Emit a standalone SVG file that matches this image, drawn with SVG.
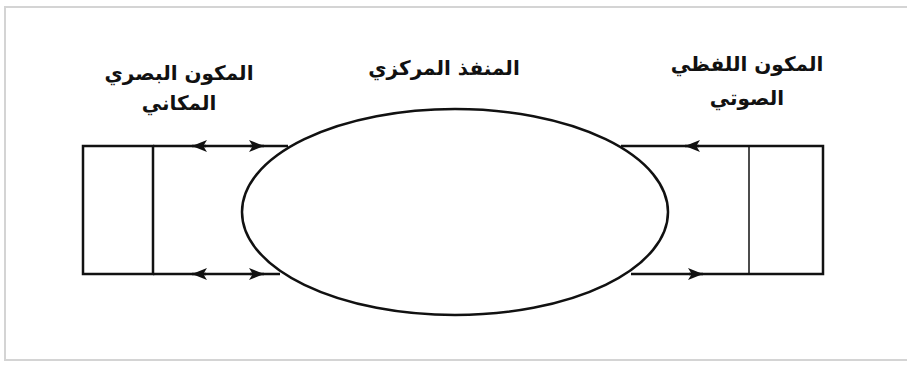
<svg xmlns="http://www.w3.org/2000/svg" width="907" height="365" viewBox="0 0 907 365">
<defs>
<style>
.ln{stroke:#111;stroke-width:2.5;fill:none}
.thin{stroke:#111;stroke-width:1.5;fill:none}
.lbl{font-family:"DejaVu Sans","Noto Sans",sans-serif;font-size:20px;font-weight:bold;fill:#111;text-anchor:middle}
</style>
<marker id="ah" viewBox="0 0 10 10" refX="10" refY="5" markerWidth="6" markerHeight="6" orient="auto-start-reverse" markerUnits="strokeWidth">
<path d="M0,1 L10,5 L0,9 L2.5,5 Z" fill="#111"/>
</marker>
</defs>
<rect x="0" y="0" width="907" height="365" fill="#fff"/>
<rect x="5" y="7" width="910" height="353" fill="#fff" stroke="#d4d4d4" stroke-width="2"/>
<g id="connectors">
<line class="ln" x1="153" y1="146" x2="288" y2="146"/>
<line class="ln" x1="153" y1="274" x2="280" y2="274"/>
<line class="ln" x1="621" y1="146" x2="749" y2="146"/>
<line class="ln" x1="631" y1="274" x2="749" y2="274"/>
<line class="ln" x1="206" y1="146" x2="192" y2="146" marker-end="url(#ah)"/>
<line class="ln" x1="250" y1="146" x2="264" y2="146" marker-end="url(#ah)"/>
<line class="ln" x1="206" y1="274" x2="192" y2="274" marker-end="url(#ah)"/>
<line class="ln" x1="250" y1="274" x2="264" y2="274" marker-end="url(#ah)"/>
<line class="ln" x1="699" y1="146" x2="685" y2="146" marker-end="url(#ah)"/>
<line class="ln" x1="689" y1="274" x2="703" y2="274" marker-end="url(#ah)"/>
</g>
<g id="visuospatial">
<path class="ln" d="M153,146 L83,146 L83,274 L153,274 Z"/>
<text class="lbl" x="179" y="80">المكون البصري</text>
<text class="lbl" x="179" y="110">المكاني</text>
</g>
<g id="central">
<ellipse class="ln" cx="455" cy="212" rx="213" ry="103" fill="#fff"/>
<text class="lbl" x="444" y="75">المنفذ المركزي</text>
</g>
<g id="phonological">
<line class="thin" x1="749" y1="146" x2="749" y2="274"/>
<path class="ln" d="M749,146 L823,146 L823,274 L749,274"/>
<text class="lbl" x="747" y="71">المكون اللفظي</text>
<text class="lbl" x="747" y="105">الصوتي</text>
</g>
</svg>
